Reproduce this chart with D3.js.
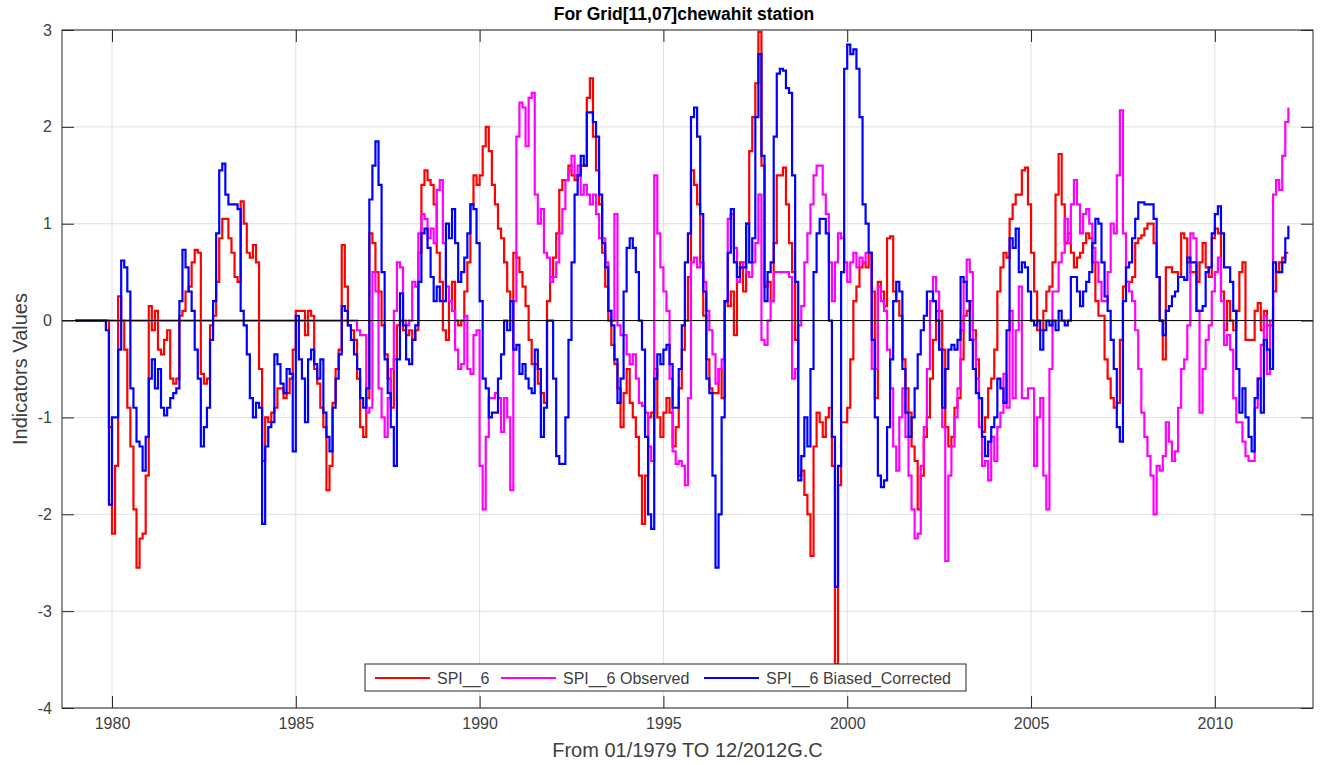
<!DOCTYPE html>
<html>
<head>
<meta charset="utf-8">
<script src="https://cdn.jsdelivr.net/npm/d3@7"></script>
<style>
  body { margin: 0; background: #fff; }
  svg { display: block; font-family: "Liberation Sans", Arial, sans-serif; }
</style>
</head>
<body>
<svg id="chart" width="1320" height="765"></svg>
<script>
// monthly series, starting 01/1979
const startYear = 1979;

const spi6 = [
  0,0,0,0,0,0,0,0,0,0,0,-1.1, // 1979
  -2.2,-1.5,0.25,0.0,-0.3,-0.9,-1.3,-1.95,-2.55,-2.25,-2.2,-1.6,
  0.15,-0.1,0.1,-0.3,-0.35,-0.2,-0.1,-0.6,-0.65,-0.6,0.05,0.1,
  0.3,0.35,0.6,0.73,0.7,-0.55,-0.65,-0.6,-0.05,0.05,0.4,0.85,
  1.05,1.05,0.85,0.7,0.45,0.4,1.23,1.0,0.7,0.65,0.78,0.6,
  -0.5,-1.45,-1.0,-1.05,-0.95,-0.9,-0.7,-0.7,-0.8,-0.75,-0.6,-0.3,
  0.1,0.1,0.1,-0.15,0.1,0.05,-0.5,-0.65,-0.9,-1.1,-1.75,-1.5, // 1985
  -0.85,-0.5,-0.3,0.78,0.35,-0.05,-0.1,-0.2,-0.6,-1.1,-1.2,-0.8,
  0.9,0.8,0.5,0.3,-0.05,-0.35,-0.6,-0.9,-0.4,-0.05,0.0,-0.1,
  -0.15,-0.1,-0.2,-0.1,0.7,1.4,1.55,1.45,1.4,1.2,0.7,0.4,
  -0.1,-0.2,0.2,0.4,0.0,-0.05,0.0,0.3,0.6,1.2,1.5,1.4,
  1.5,1.8,2.0,1.75,1.4,1.2,0.95,0.85,0.6,0.3,0.2,0.7, // 1990
  0.65,0.5,0.35,0.15,-0.2,-0.45,-0.45,-0.65,-0.75,-0.85,0.2,0.45,
  0.65,0.9,1.35,1.45,1.45,1.6,1.5,1.45,1.5,1.6,1.6,2.3,
  2.5,1.9,1.55,1.2,0.7,0.35,0.0,-0.25,-0.45,-0.7,-1.1,-0.75,
  -0.5,-0.85,-1.0,-1.2,-1.6,-2.1,-1.6,-1.0,-0.95,-0.5,-1.0,-1.2,
  -0.95,-0.8,-0.95,-1.3,-1.1,-0.7,-0.3,0.0,0.45,1.55,1.4,1.2, // 1995
  0.6,0.05,-0.4,-0.7,-0.75,-0.75,-0.5,-0.8,0.2,0.15,0.3,-0.15,
  0.4,0.6,0.3,1.0,1.75,2.1,2.45,2.98,1.6,0.35,0.4,0.2,
  0.8,1.5,1.5,1.58,1.2,0.8,0.5,-0.2,-1.6,-1.55,-1.8,-2.0,
  -2.43,-1.3,-0.95,-1.05,-1.2,-1.0,-0.9,-1.5,-3.55,-1.7,-1.05,-1.05,
  -0.9,-0.4,0.2,0.35,0.55,0.6,0.55,0.7,0.3,-0.8,0.4,0.3, // 2000
  0.15,0.85,0.87,0.3,0.2,0.05,-0.4,-0.7,-0.95,-1.3,-1.45,-1.95,
  -1.6,-1.2,-1.0,-0.6,-0.2,0.1,0.1,-0.3,-1.1,-1.3,-1.2,-0.9,
  -0.8,-0.4,0.05,0.1,0.2,-0.1,-0.4,-0.8,-1.15,-1.0,-0.7,-0.6,
  -0.3,0.3,0.55,0.7,0.65,1.05,1.2,1.3,1.3,1.55,1.58,1.2,
  0.7,0.3,-0.1,-0.1,0.1,0.3,0.35,0.6,1.3,1.72,1.2,0.8, // 2005
  0.9,0.7,0.55,0.65,0.7,0.8,0.9,0.85,0.6,0.2,0.05,0.05,
  -0.4,-0.6,-0.8,-0.9,-0.85,-0.2,0.35,0.4,0.4,0.45,0.8,0.85,
  0.88,0.95,1.0,1.0,0.8,0.45,0.0,-0.4,0.55,0.55,0.5,0.5,
  0.45,0.9,0.85,0.6,0.5,0.5,0.4,0.6,0.8,0.55,0.45,0.85,
  0.95,0.9,0.3,-0.1,0.2,0.0,-0.1,0.1,0.5,0.6,-0.2,-0.2, // 2010
  -0.2,0.1,0.18,-0.1,0.1,-0.05,-0.05,0.3,0.5,0.6,0.65,0.7,
  0.7
];

const spi6Observed = [
  0,0,0,0,0,0,0,0,0,0,0,0, // 1979
  0,0,0,0,0,0,0,0,0,0,0,0,
  0,0,0,0,0,0,0,0,0,0,0,0,
  0,0,0,0,0,0,0,0,0,0,0,0,
  0,0,0,0,0,0,0,0,0,0,0,0,
  0,0,0,0,0,0,0,0,0,0,0,0,
  0,0,0,0,0,0,0,0,0,0,0,0, // 1985
  0,0,0,0,0,0,0,0,-0.1,-0.15,-0.15,-0.95,
  -0.9,0.5,0.3,-0.7,-1.0,-1.2,-0.8,-0.5,0.1,0.6,0.55,0.0,
  -0.05,0.0,0.4,0.35,0.9,1.1,1.05,0.85,0.95,0.8,1.35,1.45,
  0.8,0.35,0.2,0.1,-0.3,-0.5,-0.45,0.05,-0.5,-0.55,-0.15,-0.1,
  -1.5,-1.95,-1.2,-0.8,-0.8,-0.75,-0.8,-1.15,-0.8,-1.0,-1.75,0.2, // 1990
  1.9,2.25,2.2,1.8,2.3,2.35,1.3,1.0,1.15,0.7,0.65,0.4,
  0.45,0.6,0.9,1.15,1.45,1.55,1.7,1.5,1.6,1.3,1.4,1.3,
  1.2,1.3,1.1,0.85,0.85,0.6,0.1,0.0,1.1,-0.05,-0.15,-0.15,
  -0.35,-0.45,-0.35,-0.6,-0.85,-0.88,-0.95,-1.3,-1.45,1.5,0.9,0.55,
  0.3,0.1,-0.6,-1.35,-1.48,-1.45,-1.5,-1.7,-0.8,0.6,0.65,0.55, // 1995
  0.6,0.4,0.1,-0.1,-0.35,-0.65,-0.5,-0.4,0.2,1.05,1.1,0.75,
  0.4,0.55,0.6,0.5,0.45,0.6,0.8,1.3,-0.2,-0.25,0.0,0.2,
  0.5,0.5,0.5,0.5,0.5,0.45,-0.6,-0.5,-0.05,0.15,0.6,0.9,
  1.2,1.5,1.6,1.6,1.3,1.1,0.6,0.2,0.6,0.9,0.85,0.6,
  0.4,0.6,0.7,0.55,0.65,0.6,0.7,0.7,-0.5,-0.5,0.35,0.2, // 2000
  0.1,-0.3,-0.7,-1.3,-1.55,-1.0,-0.7,-1.2,-1.6,-1.95,-2.25,-2.2,
  -1.5,-1.1,-0.5,0.2,0.45,0.3,-0.3,-1.1,-2.48,-1.6,-1.3,-1.0,
  -0.7,-0.1,0.4,0.63,0.5,-0.2,-0.6,-1.1,-1.5,-1.45,-1.65,-1.2,
  -1.45,-1.1,-0.95,-0.55,-0.9,0.1,-0.8,-0.1,0.35,-0.8,-0.8,-0.7,
  -0.7,-1.5,-1.0,-0.8,-1.6,-1.95,-0.5,0.3,0.3,0.6,0.7,1.05, // 2005
  0.8,1.2,1.45,1.2,0.9,1.1,1.15,1.0,0.75,0.6,0.4,0.2,
  0.2,0.5,1.0,0.9,1.5,2.17,0.9,0.4,0.3,0.2,-0.1,-0.5,
  -0.95,-1.2,-1.4,-1.6,-2.0,-1.5,-1.55,-1.4,-1.05,-1.25,-1.45,-1.35,
  -0.9,-0.5,-0.4,-0.05,0.9,0.85,0.1,-0.95,-0.5,-0.2,-0.05,0.3,
  0.5,0.65,0.2,-0.25,-0.15,-0.3,-0.8,-1.05,-1.05,-1.25,-1.4,-1.45, // 2010
  -1.45,-0.9,-0.6,-0.25,0.05,-0.55,0.0,1.3,1.45,1.35,1.7,2.05,
  2.2
];

const spi6Corrected = [
  0,0,0,0,0,0,0,0,0,0,-0.1,-1.9, // 1979
  -1.0,-1.0,-0.3,0.62,0.55,0.3,-0.7,-0.9,-1.25,-1.3,-1.55,-1.2,
  -0.6,-0.4,-0.7,-0.5,-0.9,-0.98,-0.9,-0.8,-0.75,-0.7,0.2,0.73,
  0.55,0.3,0.1,-0.3,-0.6,-1.3,-1.1,-0.9,-0.2,0.2,0.9,1.55,
  1.62,1.3,1.2,1.2,1.2,1.15,0.1,-0.05,-0.35,-0.8,-1.0,-0.85,
  -0.9,-2.1,-1.3,-1.1,-1.05,-0.35,-0.45,-0.65,-0.75,-0.5,-0.55,-1.35,
  0.05,-0.4,-0.6,-1.05,-0.4,-0.3,-0.45,-0.6,-0.4,-0.95,-1.2,-1.35, // 1985
  -0.9,-0.6,-0.35,0.15,0.1,-0.05,-0.2,-0.35,-0.5,-0.8,-0.9,-0.7,
  1.25,1.6,1.85,1.4,0.5,-0.4,-0.75,-1.1,-1.5,-0.4,0.28,-0.05,
  -0.4,-0.45,-0.2,-0.05,0.4,0.9,0.95,0.75,0.45,0.2,0.35,0.2,
  0.2,1.0,0.85,1.15,0.8,0.4,0.5,0.65,0.9,1.2,1.15,0.8,
  0.2,-0.6,-0.7,-1.0,-0.95,-0.95,-0.6,-0.35,0.0,-0.1,0.2,-0.3, // 1990
  -0.25,-0.55,-0.45,-0.6,-0.7,-0.75,-0.3,-0.5,-1.2,-0.9,0.0,0.0,
  -0.6,-1.4,-1.48,-1.48,-1.0,-0.2,0.6,1.3,1.5,1.7,1.6,2.15,
  2.15,2.05,1.9,1.3,0.8,0.55,0.1,-0.05,-0.4,-0.85,-0.6,0.3,
  0.75,0.85,0.75,0.5,0.0,-0.3,-1.2,-2.0,-2.15,-0.6,-0.35,-0.45,
  -0.3,-0.25,-0.45,-0.9,-0.9,-0.5,-0.05,0.6,0.9,2.1,2.2,1.9, // 1995
  1.1,0.3,-0.6,-0.75,-1.6,-2.55,-2.0,-1.0,0.2,0.7,1.15,0.6,
  0.45,0.55,0.55,1.0,0.6,0.85,2.1,2.75,1.7,0.2,0.5,0.6,
  1.9,2.55,2.6,2.58,2.4,2.35,1.5,0.4,-1.65,-1.4,-1.0,-1.3,
  -0.5,0.5,0.9,1.05,1.05,0.9,0.0,-1.2,-2.75,-1.5,0.5,2.6,
  2.85,2.75,2.8,2.6,2.1,1.2,1.0,0.7,-0.2,-1.0,-1.6,-1.72, // 2000
  -1.65,-1.1,-0.4,0.2,0.4,0.3,-0.5,-0.95,-1.2,-1.0,-0.7,-0.35,
  -0.1,0.05,0.3,0.3,0.2,0.0,-0.3,-0.9,-0.5,-0.3,-0.25,-0.3,
  -0.2,0.45,0.4,0.2,-0.2,-0.5,-0.75,-0.8,-1.2,-1.4,-1.25,-1.1,
  -1.0,-0.6,-0.7,-0.85,-0.1,0.85,0.75,0.95,0.5,0.6,0.55,0.3,
  0.0,-0.05,0.0,-0.3,-0.1,0.0,-0.05,0.0,-0.1,0.1,0.0,-0.05, // 2005
  0.0,0.45,0.45,0.3,0.15,0.3,0.4,0.5,0.8,1.05,1.0,0.6,
  0.25,0.1,-0.2,-0.5,-1.1,-1.25,0.2,0.55,0.6,0.85,1.05,1.22,
  1.22,1.2,1.2,1.2,1.05,0.45,0.0,-0.15,0.1,0.15,0.25,0.3,
  0.45,0.45,0.42,0.65,0.6,0.6,0.1,0.1,0.15,0.5,0.55,0.9,
  1.1,1.18,0.9,0.55,0.55,0.4,0.1,-0.5,-0.95,-0.7,-1.0,-1.2, // 2010
  -1.35,-0.8,-0.6,-0.95,-0.2,-0.3,-0.5,0.6,0.5,0.5,0.6,0.85,
  0.98
];

const seriesNames = ["SPI__6", "SPI__6 Observed", "SPI__6 Biased_Corrected"];
const seriesColors = ["#ff0000", "#ff00ff", "#0000ff"];
const xTicks = [1980, 1985, 1990, 1995, 2000, 2005, 2010];
const yTicks = [-4, -3, -2, -1, 0, 1, 2, 3];

const margin = { top: 30, right: 7, bottom: 57, left: 62 },
      W = 1320, H = 765,
      width = W - margin.left - margin.right,
      height = H - margin.top - margin.bottom;

const svg = d3.select("#chart");
const g = svg.append("g").attr("transform", `translate(${margin.left},${margin.top})`);

const x = d3.scaleLinear().domain([1978.64, 2012.67]).range([0, width]);
const y = d3.scaleLinear().domain([-4, 3]).range([height, 0]);

const axisColor = "#262626";
const labelColor = "#404040";

// grid
g.append("g").selectAll("line").data(xTicks).enter().append("line")
  .attr("x1", d => x(d)).attr("x2", d => x(d))
  .attr("y1", 0).attr("y2", height)
  .attr("stroke", "#dfdfdf").attr("stroke-width", 1);
g.append("g").selectAll("line").data(yTicks).enter().append("line")
  .attr("x1", 0).attr("x2", width)
  .attr("y1", d => y(d)).attr("y2", d => y(d))
  .attr("stroke", "#dfdfdf").attr("stroke-width", 1);

g.append("clipPath").attr("id", "clip")
  .append("rect").attr("width", width).attr("height", height);

const line = d3.line()
  .x((d, i) => x(startYear + i / 12))
  .y(d => y(d))
  .curve(d3.curveStepAfter);

const plotArea = g.append("g").attr("clip-path", "url(#clip)");
[spi6, spi6Observed, spi6Corrected].forEach((s, k) => {
  plotArea.append("path")
    .datum(s)
    .attr("fill", "none")
    .attr("stroke", seriesColors[k])
    .attr("stroke-width", 2.2)
    .attr("d", line);
});

// zero line
g.append("line")
  .attr("x1", 0).attr("x2", width)
  .attr("y1", y(0)).attr("y2", y(0))
  .attr("stroke", "#000").attr("stroke-width", 1);

// axes, ticks pointing inward on all four sides
const tickLen = 12;
const xAxis = g.append("g").attr("transform", `translate(0,${height})`)
  .call(d3.axisBottom(x).tickValues(xTicks).tickFormat(d => String(d))
    .tickSizeInner(-tickLen).tickSizeOuter(0).tickPadding(10));
const xAxisTop = g.append("g")
  .call(d3.axisTop(x).tickValues(xTicks).tickSizeInner(-tickLen).tickSizeOuter(0).tickFormat(""));
const yAxis = g.append("g")
  .call(d3.axisLeft(y).tickValues(yTicks).tickFormat(d => String(d))
    .tickSizeInner(-tickLen).tickSizeOuter(0).tickPadding(10));
const yAxisRight = g.append("g").attr("transform", `translate(${width},0)`)
  .call(d3.axisRight(y).tickValues(yTicks).tickSizeInner(-tickLen).tickSizeOuter(0).tickFormat(""));

[xAxis, xAxisTop, yAxis, yAxisRight].forEach(a => {
  a.select(".domain").remove();
  a.selectAll("line").attr("stroke", axisColor);
  a.selectAll("text").attr("fill", labelColor)
    .style("font-size", "16px").style("font-family", "Liberation Sans, Arial, sans-serif");
});

g.append("rect")
  .attr("width", width).attr("height", height)
  .attr("fill", "none").attr("stroke", axisColor).attr("stroke-width", 1);

// title and axis labels
svg.append("text")
  .attr("x", 684).attr("y", 20)
  .attr("text-anchor", "middle")
  .style("font-weight", "bold").style("font-size", "17.5px")
  .attr("fill", "#000")
  .text("For Grid[11,07]chewahit station");

svg.append("text")
  .attr("x", margin.left + width / 2).attr("y", 757)
  .attr("text-anchor", "middle")
  .style("font-size", "20px")
  .attr("fill", labelColor)
  .text("From 01/1979 TO 12/2012G.C");

svg.append("text")
  .attr("transform", `translate(27,${margin.top + height / 2}) rotate(-90)`)
  .attr("text-anchor", "middle")
  .style("font-size", "20px")
  .attr("fill", labelColor)
  .text("Indicators Values");

// legend
const legend = svg.append("g").attr("transform", "translate(365,664)");
legend.append("rect")
  .attr("width", 601).attr("height", 27)
  .attr("fill", "#fff").attr("stroke", axisColor).attr("stroke-width", 1);
const legendX = [10, 136, 339];
seriesNames.forEach((name, k) => {
  legend.append("line")
    .attr("x1", legendX[k]).attr("x2", legendX[k] + 55)
    .attr("y1", 14).attr("y2", 14)
    .attr("stroke", seriesColors[k]).attr("stroke-width", 2.2);
  legend.append("text")
    .attr("x", legendX[k] + 62).attr("y", 20)
    .style("font-size", "16px")
    .attr("fill", labelColor)
    .text(name);
});
</script>
</body>
</html>
